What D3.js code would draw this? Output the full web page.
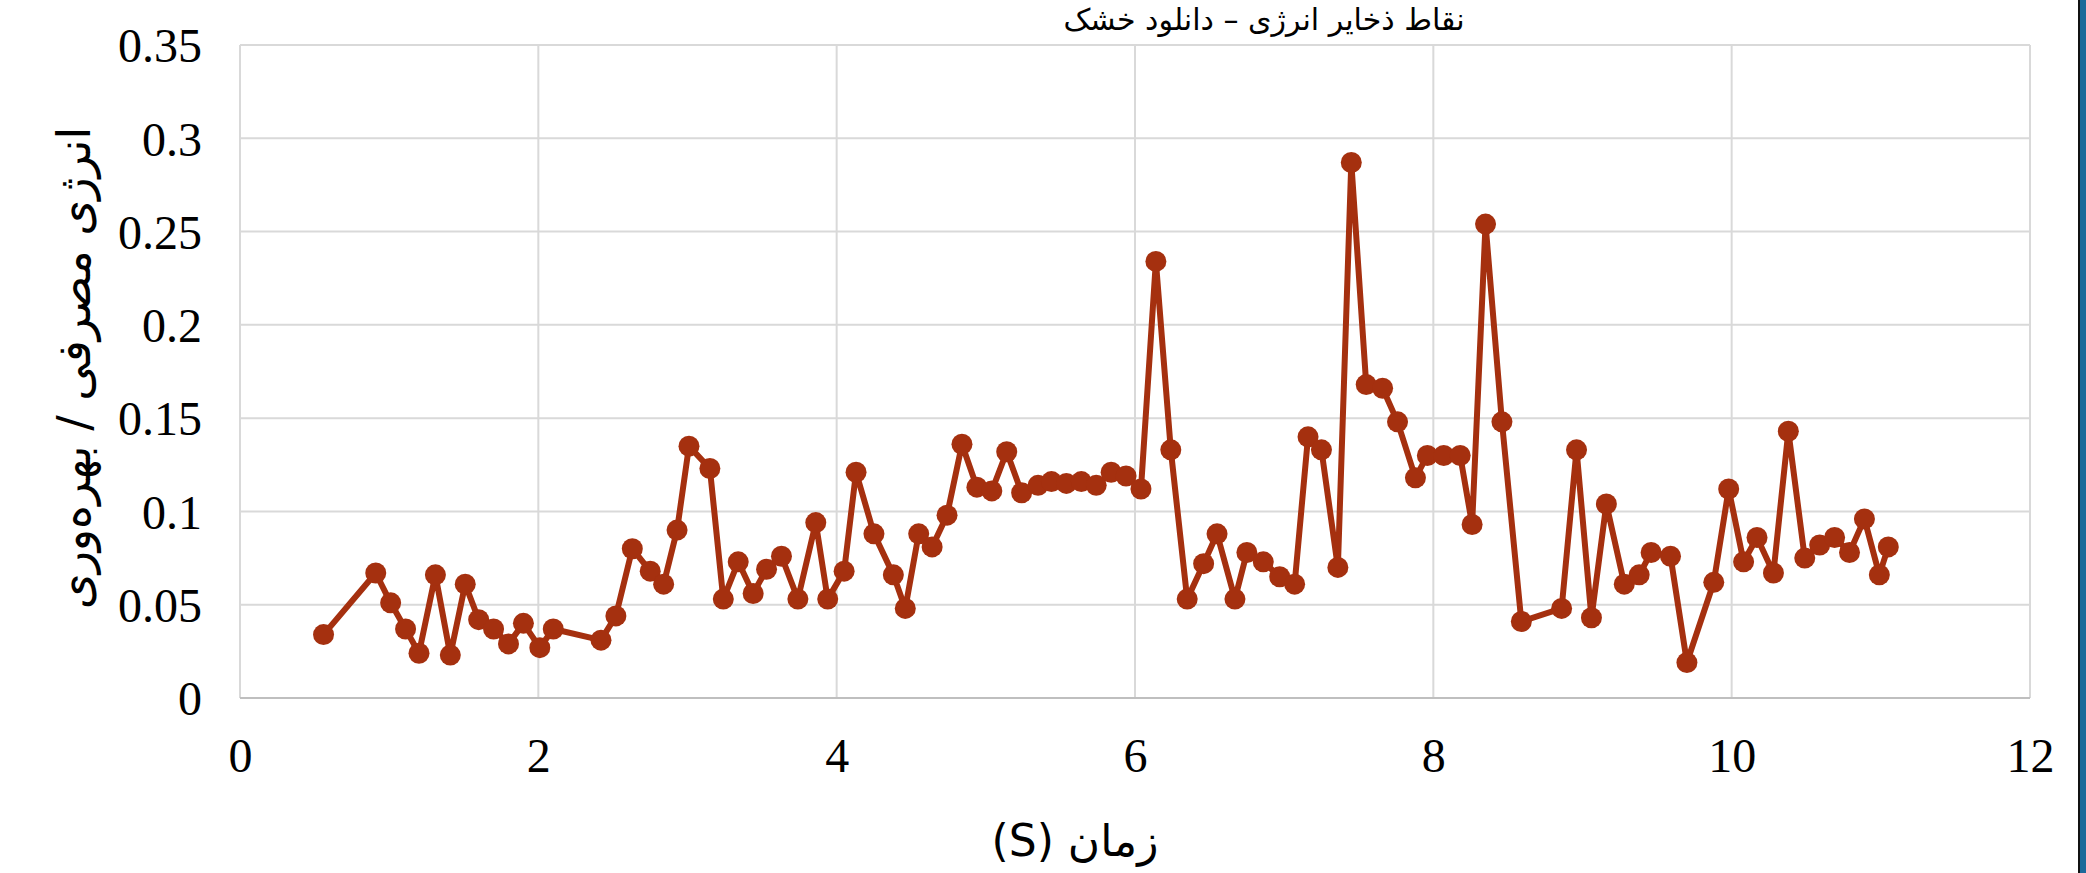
<!DOCTYPE html>
<html lang="fa">
  <head>
    <meta charset="utf-8" />
    <title>انرژی مصرفی / بهره‌وری</title>
    <script src="https://d3js.org/d3.v7.min.js"></script>
    <style>
      body { margin: 0; background: white; }
      .tick text { font-family: "Liberation Serif", serif; font-size: 48px; fill: #000; }
      .fa { font-family: "DejaVu Sans", sans-serif; fill: #000; }
    </style>
  </head>
  <body>
    <svg width="2086" height="873"></svg>
    <script>
      // time (s)
      const times = [
        0.56, 0.91, 1.01, 1.11, 1.2, 1.31, 1.41, 1.51, 1.6, 1.7, 1.8, 1.9, 2.01,
        2.1, 2.42, 2.52, 2.63, 2.75, 2.84, 2.93, 3.01, 3.15, 3.24, 3.34, 3.44,
        3.53, 3.63, 3.74, 3.86, 3.94, 4.05, 4.13, 4.25, 4.38, 4.46, 4.55, 4.64,
        4.74, 4.84, 4.94, 5.04, 5.14, 5.24, 5.35, 5.44, 5.54, 5.64, 5.74, 5.84,
        5.94, 6.04, 6.14, 6.24, 6.35, 6.46, 6.55, 6.67, 6.75, 6.86, 6.97, 7.07,
        7.16, 7.25, 7.36, 7.45, 7.55, 7.66, 7.76, 7.88, 7.96, 8.07, 8.18, 8.26,
        8.35, 8.46, 8.59, 8.86, 8.96, 9.06, 9.16, 9.28, 9.38, 9.46, 9.59, 9.7,
        9.88, 9.98, 10.08, 10.17, 10.28, 10.38, 10.49, 10.59, 10.69, 10.79,
        10.89, 10.99, 11.05
      ];
      // energy / efficiency
      const values = [
        0.034, 0.067, 0.051, 0.037, 0.024, 0.066, 0.023, 0.061, 0.042, 0.037,
        0.029, 0.04, 0.027, 0.037, 0.031, 0.044, 0.08, 0.068, 0.061, 0.09,
        0.135, 0.123, 0.053, 0.073, 0.056, 0.069, 0.076, 0.053, 0.094, 0.053,
        0.068, 0.121, 0.088, 0.066, 0.048, 0.088, 0.081, 0.098, 0.136, 0.113,
        0.111, 0.132, 0.11, 0.114, 0.116, 0.115, 0.116, 0.114, 0.121, 0.119,
        0.112, 0.234, 0.133, 0.053, 0.072, 0.088, 0.053, 0.078, 0.073, 0.065,
        0.061, 0.14, 0.133, 0.07, 0.287, 0.168, 0.166, 0.148, 0.118, 0.13,
        0.13, 0.13, 0.093, 0.254, 0.148, 0.041, 0.048, 0.133, 0.043, 0.104,
        0.061, 0.066, 0.078, 0.076, 0.019, 0.062, 0.112, 0.073, 0.086, 0.067,
        0.143, 0.075, 0.082, 0.086, 0.078, 0.096, 0.066, 0.081
      ];
      const xTicks = [0, 2, 4, 6, 8, 10, 12];
      const yTicks = [0, 0.05, 0.1, 0.15, 0.2, 0.25, 0.3, 0.35];

      const titleText = "نقاط ذخایر انرژی – دانلود خشک";
      const xTitle = "زمان (S)";
      const yTitle = "انرژی مصرفی / بهره‌وری";

      const data = times.map((t, i) => ({ t: t, v: values[i] }));

      const svg = d3.select("svg"),
        margin = { top: 45, right: 56, bottom: 175, left: 240 },
        width = svg.attr("width") - margin.left - margin.right,
        height = svg.attr("height") - margin.top - margin.bottom;

      const g = svg
        .append("g")
        .attr("transform", "translate(" + margin.left + "," + margin.top + ")");

      const x = d3.scaleLinear().domain([0, 12]).range([0, width]);
      const y = d3.scaleLinear().domain([0, 0.35]).range([height, 0]);

      // gridlines
      g.append("g")
        .selectAll("line")
        .data(yTicks)
        .join("line")
        .attr("x1", 0)
        .attr("x2", width)
        .attr("y1", (d) => y(d))
        .attr("y2", (d) => y(d))
        .attr("stroke", "#d9d9d9")
        .attr("stroke-width", 2);
      g.append("g")
        .selectAll("line")
        .data(xTicks)
        .join("line")
        .attr("x1", (d) => x(d))
        .attr("x2", (d) => x(d))
        .attr("y1", 0)
        .attr("y2", height)
        .attr("stroke", "#d9d9d9")
        .attr("stroke-width", 2);
      g.append("line")
        .attr("x1", 0)
        .attr("x2", width)
        .attr("y1", height)
        .attr("y2", height)
        .attr("stroke", "#bfbfbf")
        .attr("stroke-width", 2);

      // axes (labels only)
      const xAxis = g
        .append("g")
        .attr("transform", "translate(0," + height + ")")
        .call(d3.axisBottom(x).tickValues(xTicks).tickSize(0).tickPadding(40));
      const yAxis = g
        .append("g")
        .call(
          d3.axisLeft(y).tickValues(yTicks).tickSize(0).tickPadding(38)
            .tickFormat((d) => String(+d.toFixed(2)))
        );
      xAxis.select(".domain").remove();
      yAxis.select(".domain").remove();
      yAxis.selectAll(".tick text").attr("dy", "0.35em");

      // series
      const color = "#a5300f";
      g.append("path")
        .datum(data)
        .attr("fill", "none")
        .attr("stroke", color)
        .attr("stroke-width", 6)
        .attr("stroke-linejoin", "round")
        .attr("d", d3.line().x((d) => x(d.t)).y((d) => y(d.v)));
      g.append("g")
        .selectAll("circle")
        .data(data)
        .join("circle")
        .attr("cx", (d) => x(d.t))
        .attr("cy", (d) => y(d.v))
        .attr("r", 10.5)
        .attr("fill", color);

      // titles
      svg.append("text")
        .attr("class", "fa")
        .attr("x", 1264)
        .attr("y", 30)
        .attr("text-anchor", "middle")
        .attr("font-size", 30)
        .attr("direction", "rtl")
        .text(titleText);
      svg.append("text")
        .attr("class", "fa")
        .attr("x", 1075)
        .attr("y", 856)
        .attr("text-anchor", "middle")
        .attr("font-size", 44)
        .attr("direction", "rtl")
        .text(xTitle);
      svg.append("text")
        .attr("class", "fa")
        .attr("transform", "translate(90,368) rotate(-90)")
        .attr("text-anchor", "middle")
        .attr("font-size", 46)
        .attr("direction", "rtl")
        .text(yTitle);

      // window edge on the right
      svg.append("rect").attr("x", 2078).attr("y", 0).attr("width", 2).attr("height", 873).attr("fill", "#111");
      svg.append("rect").attr("x", 2080).attr("y", 0).attr("width", 6).attr("height", 873).attr("fill", "#1a6a9a");
    </script>
  </body>
</html>
